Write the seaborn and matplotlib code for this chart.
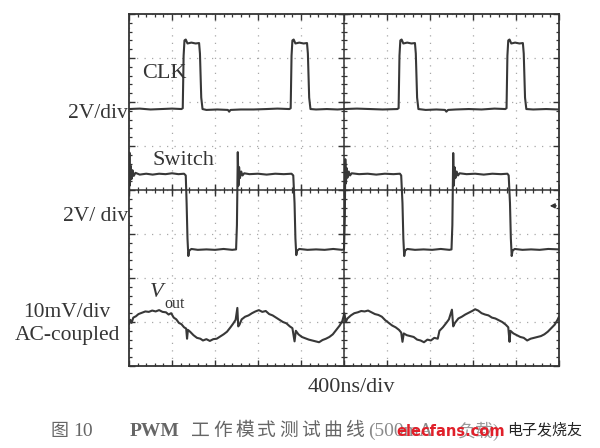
#import libraries
import numpy as np
import pandas as pd
import seaborn as sns
import matplotlib.pyplot as plt

#trace data (x and y in divisions)
clk_pts = [(0.00, 5.84), (0.25, 5.85), (0.50, 5.83), (0.75, 5.84), (1.00, 5.85), (1.22, 5.84),
           (1.25, 5.86), (1.27, 7.05), (1.29, 7.40), (1.32, 7.42), (1.36, 7.33), (1.45, 7.35), (1.55, 7.33), (1.63, 7.34),
           (1.65, 7.10), (1.68, 6.10), (1.71, 5.84), (1.80, 5.82), (2.05, 5.83), (2.30, 5.82), (2.33, 5.78), (2.36, 5.82),
           (2.60, 5.83), (2.90, 5.83), (3.20, 5.84), (3.45, 5.85), (3.73, 5.84),
           (3.76, 5.86), (3.78, 7.05), (3.80, 7.40), (3.83, 7.42), (3.87, 7.33), (3.96, 7.35), (4.06, 7.33), (4.14, 7.34),
           (4.16, 7.10), (4.19, 6.10), (4.22, 5.84), (4.35, 5.83), (4.60, 5.84), (4.85, 5.83), (5.00, 5.84),
           (5.30, 5.85), (5.60, 5.84), (5.90, 5.83), (6.24, 5.84),
           (6.27, 5.86), (6.29, 7.05), (6.31, 7.40), (6.34, 7.42), (6.38, 7.33), (6.47, 7.35), (6.57, 7.33), (6.65, 7.34),
           (6.67, 7.10), (6.70, 6.10), (6.73, 5.84), (6.90, 5.82), (7.15, 5.83), (7.35, 5.82), (7.38, 5.78), (7.42, 5.82),
           (7.60, 5.83), (7.90, 5.84), (8.20, 5.83), (8.50, 5.85), (8.75, 5.84),
           (8.78, 5.86), (8.80, 7.05), (8.82, 7.40), (8.85, 7.42), (8.89, 7.33), (8.98, 7.35), (9.08, 7.33), (9.16, 7.34),
           (9.18, 7.10), (9.21, 6.10), (9.24, 5.84), (9.40, 5.83), (9.70, 5.84), (10.00, 5.83)]

switch_pts = [(0.00, 4.20), (0.01, 4.85), (0.02, 4.10), (0.04, 4.55), (0.06, 4.25), (0.08, 4.45), (0.11, 4.32),
              (0.15, 4.39), (0.25, 4.35), (0.40, 4.37), (0.55, 4.35), (0.70, 4.37), (0.85, 4.36), (1.00, 4.38),
              (1.15, 4.36), (1.28, 4.37), (1.32, 4.33),
              (1.34, 3.70), (1.36, 2.90), (1.38, 2.50), (1.40, 2.62), (1.45, 2.66), (1.60, 2.64), (1.80, 2.65),
              (2.00, 2.64), (2.20, 2.66), (2.40, 2.64), (2.49, 2.65),
              (2.51, 3.20), (2.53, 4.86), (2.545, 4.10), (2.56, 4.52), (2.58, 4.27), (2.61, 4.42), (2.64, 4.33),
              (2.68, 4.38), (2.80, 4.36), (3.00, 4.37), (3.20, 4.35), (3.40, 4.37), (3.60, 4.36), (3.78, 4.37), (3.82, 4.33),
              (3.85, 3.70), (3.87, 2.90), (3.89, 2.52), (3.91, 2.62), (3.96, 2.66), (4.15, 2.64), (4.35, 2.65),
              (4.55, 2.64), (4.75, 2.66), (4.95, 2.64), (5.00, 2.65),
              (5.02, 3.40), (5.03, 4.70), (5.045, 4.15), (5.06, 4.50), (5.08, 4.28), (5.11, 4.42), (5.14, 4.33),
              (5.18, 4.38), (5.35, 4.36), (5.55, 4.37), (5.75, 4.35), (5.95, 4.37), (6.15, 4.36), (6.30, 4.37), (6.33, 4.33),
              (6.36, 3.70), (6.38, 2.90), (6.40, 2.50), (6.42, 2.62), (6.47, 2.66), (6.65, 2.64), (6.85, 2.65),
              (7.05, 2.64), (7.25, 2.66), (7.45, 2.64), (7.50, 2.65),
              (7.52, 3.20), (7.54, 4.84), (7.555, 4.10), (7.57, 4.52), (7.59, 4.27), (7.62, 4.42), (7.65, 4.33),
              (7.69, 4.38), (7.85, 4.36), (8.05, 4.37), (8.25, 4.35), (8.45, 4.37), (8.65, 4.36), (8.80, 4.37), (8.83, 4.33),
              (8.86, 3.70), (8.88, 2.90), (8.90, 2.50), (8.92, 2.62), (8.97, 2.66), (9.15, 2.64), (9.35, 2.65),
              (9.55, 2.64), (9.75, 2.66), (10.00, 2.65)]

vout_pts = [(0.00, 0.95), (0.03, 1.05), (0.06, 0.98), (0.10, 1.10), (0.16, 1.13), (0.22, 1.18), (0.30, 1.21),
            (0.38, 1.24), (0.46, 1.23), (0.54, 1.26), (0.62, 1.24), (0.70, 1.27), (0.78, 1.23), (0.86, 1.22),
            (0.92, 1.17), (0.98, 1.20), (1.04, 1.10), (1.10, 1.06), (1.16, 0.98), (1.22, 0.95), (1.28, 0.88),
            (1.33, 0.85), (1.35, 0.62), (1.37, 0.82), (1.42, 0.78), (1.50, 0.70), (1.58, 0.64), (1.66, 0.62),
            (1.72, 0.58), (1.80, 0.61), (1.88, 0.57), (1.96, 0.61), (2.04, 0.62), (2.12, 0.67), (2.20, 0.72),
            (2.28, 0.78), (2.36, 0.88), (2.42, 0.96), (2.48, 1.05), (2.52, 1.32), (2.54, 0.90), (2.57, 0.94),
            (2.62, 1.06), (2.70, 1.12), (2.78, 1.15), (2.86, 1.20), (2.94, 1.24), (3.02, 1.27), (3.10, 1.23),
            (3.18, 1.25), (3.26, 1.18), (3.34, 1.15), (3.42, 1.10), (3.50, 1.05), (3.58, 1.00), (3.66, 0.97),
            (3.74, 0.90), (3.80, 0.86), (3.85, 0.56), (3.88, 0.80), (3.94, 0.72), (4.02, 0.66), (4.10, 0.63),
            (4.18, 0.60), (4.26, 0.58), (4.34, 0.56), (4.42, 0.54), (4.50, 0.59), (4.58, 0.62), (4.66, 0.66),
            (4.74, 0.72), (4.82, 0.82), (4.90, 0.92), (4.96, 1.02), (5.01, 1.20), (5.04, 1.00), (5.08, 1.08),
            (5.16, 1.15), (5.24, 1.20), (5.32, 1.22), (5.40, 1.25), (5.48, 1.24), (5.56, 1.26), (5.64, 1.22),
            (5.72, 1.18), (5.80, 1.16), (5.88, 1.12), (5.96, 1.04), (6.04, 0.98), (6.12, 0.92), (6.20, 0.88),
            (6.28, 0.82), (6.33, 0.76), (6.36, 0.55), (6.39, 0.74), (6.46, 0.70), (6.54, 0.68), (6.62, 0.66),
            (6.70, 0.60), (6.78, 0.58), (6.86, 0.54), (6.94, 0.60), (7.02, 0.58), (7.10, 0.64), (7.18, 0.62),
            (7.22, 0.80), (7.30, 0.88), (7.38, 0.98), (7.44, 1.06), (7.51, 1.28), (7.54, 0.90), (7.58, 0.98),
            (7.66, 1.08), (7.74, 1.12), (7.82, 1.17), (7.90, 1.21), (7.98, 1.25), (8.05, 1.29), (8.12, 1.26),
            (8.20, 1.20), (8.28, 1.17), (8.36, 1.15), (8.44, 1.10), (8.52, 1.08), (8.60, 1.04), (8.68, 1.00),
            (8.76, 0.94), (8.82, 0.88), (8.85, 0.55), (8.87, 0.80), (8.94, 0.74), (9.02, 0.70), (9.10, 0.66),
            (9.18, 0.64), (9.26, 0.58), (9.34, 0.62), (9.42, 0.64), (9.50, 0.66), (9.58, 0.68), (9.66, 0.72),
            (9.74, 0.78), (9.82, 0.86), (9.90, 0.94), (9.96, 1.04), (10.00, 1.12)]

#label texts
scale_labels = ['2V/div', '2V/ div', '10mV/div', 'AC-coupled']
caption_head = ['图', '10', 'PWM']
caption_cn = '工作模式测试曲线'
caption_tail = ['(500mA', '负载)']

sns.set_style('ticks')
plt.rcParams['font.family'] = ['Liberation Serif', 'Noto Sans CJK SC']

fig = plt.figure(figsize=(6, 4.48), dpi=100)
ax = fig.add_axes([129 / 600, 1 - 366 / 448, 430 / 600, 352 / 448])

ink = '#383838'
for pts in [clk_pts, switch_pts, vout_pts]:
    df = pd.DataFrame(pts, columns=['t', 'v'])
    sns.lineplot(data=df, x='t', y='v', sort=False, estimator=None, ax=ax, color=ink, linewidth=1.5)

#scope graticule
ax.set_xlim(0, 10)
ax.set_ylim(0, 8)
ax.set_xticks(range(11))
ax.set_yticks(range(9))
ax.set_xticks(np.arange(0, 10.01, 0.2), minor=True)
ax.set_yticks(np.arange(0, 8.01, 0.2), minor=True)
ax.tick_params(which='both', direction='in', top=True, right=True, labelbottom=False, labelleft=False, color='#333')
ax.tick_params(which='major', length=4.5, width=1)
ax.tick_params(which='minor', length=2.3, width=0.9)
ax.grid(True, which='major', color='#a8a8a8', linestyle=(0, (1, 5)), linewidth=0.9)
ax.set_xlabel('')
ax.set_ylabel('')
for s in ax.spines.values():
    s.set_color('#333')
    s.set_linewidth(1.3)

ax.axhline(4, color='#333', lw=1.1)
ax.axvline(5, color='#333', lw=1.1)
ax.plot(np.arange(0, 10.01, 0.2), np.full(51, 4.0), ls='none', marker='|', ms=4.5, mew=0.9, color='#333')
ax.plot(np.arange(0, 11), np.full(11, 4.0), ls='none', marker='|', ms=8, mew=1, color='#333')
ax.plot(np.full(41, 5.0), np.arange(0, 8.01, 0.2), ls='none', marker='_', ms=4.5, mew=0.9, color='#333')
ax.plot(np.full(9, 5.0), np.arange(0, 9), ls='none', marker='_', ms=8, mew=1, color='#333')
ax.annotate('', xy=(9.72, 3.64), xytext=(10.0, 3.64),
            arrowprops=dict(arrowstyle='-|>', color='#333', lw=1, mutation_scale=7))

def px(x, y):
    return x / 600, 1 - y / 448

txt = '#353535'
fig.text(*px(142, 78), 'CLK', fontsize=16, color=txt, va='baseline')
fig.text(*px(152, 165), 'Switch', fontsize=16, color=txt, va='baseline')
fig.text(*px(150, 297), 'V', fontsize=16, style='italic', color=txt, va='baseline')
fig.text(*px(164, 308), 'out', fontsize=11.5, color=txt, va='baseline')
fig.text(*px(128, 118), scale_labels[0], fontsize=15.5, color=txt, ha='right', va='baseline')
fig.text(*px(128, 221), scale_labels[1], fontsize=15.5, color=txt, ha='right', va='baseline')
fig.text(*px(67, 317), scale_labels[2], fontsize=15.5, color=txt, ha='center', va='baseline')
fig.text(*px(67, 340), scale_labels[3], fontsize=15.5, color=txt, ha='center', va='baseline')
fig.text(*px(351, 392), '400ns/div', fontsize=16, color=txt, ha='center', va='baseline')

#caption
cap = '#666666'
fig.text(*px(50, 436), caption_head[0], fontsize=13, color=cap, va='baseline')
fig.text(*px(73, 436), caption_head[1], fontsize=14, color=cap, va='baseline')
fig.text(*px(130, 436), caption_head[2], fontsize=14, color=cap, va='baseline', weight='bold')
for i, ch in enumerate(caption_cn):
    fig.text(*px(191 + 22 * i, 436), ch, fontsize=13.5, color=cap, va='baseline')
fig.text(*px(368, 436), caption_tail[0], fontsize=14, color='#8a8a8a', va='baseline')
fig.text(*px(458, 437), caption_tail[1], fontsize=13, color='#9a9a9a', va='baseline')

#watermark
fig.text(*px(396, 436), 'elecfans.com', fontsize=10.5, color='#e0202a', weight='bold',
         family='DejaVu Sans', va='baseline')
fig.text(*px(507, 434), '电子发烧友', fontsize=10.8, color='#222', family='Noto Sans CJK SC', va='baseline')

fig.savefig('out.png', dpi=100, facecolor='white')
